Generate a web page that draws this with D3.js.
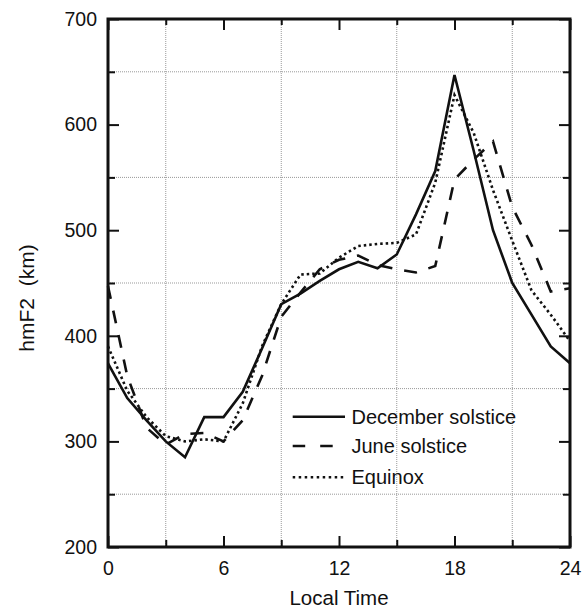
<!DOCTYPE html>
<html lang="en">

<head>
    <meta charset="UTF-8">
    <title>hmF2 local time</title>
    <style>
        body { margin: 0; background: #fff; }
        text { font-family: "Liberation Sans", Arial, sans-serif; fill: #111; }
    </style>
</head>

<body>
    <svg id="chart"></svg>

    <script src="https://d3js.org/d3.v7.min.js"></script>
    <script>
        const hours = [0, 1, 2, 3, 4, 5, 6, 7, 8, 9, 10, 11, 12, 13, 14, 15, 16, 17, 18, 19, 20, 21, 22, 23, 24]
        const december = [374, 341, 320, 300, 285, 323, 323, 347, 388, 430, 440, 452, 463, 470, 464, 477, 515, 556, 647, 575, 500, 450, 420, 390, 374]
        const june = [447, 362, 313, 297, 307, 308, 300, 320, 362, 418, 441, 463, 472, 476, 467, 463, 460, 466, 548, 567, 584, 522, 486, 442, 445]
        const equinox = [390, 348, 323, 305, 300, 302, 300, 336, 390, 430, 458, 459, 474, 485, 487, 488, 496, 545, 628, 592, 538, 490, 443, 420, 395]

        const xMajor = [0, 6, 12, 18, 24]
        const xMinor = [3, 9, 15, 21]
        const yMajor = [200, 300, 400, 500, 600, 700]
        const yMinor = [250, 350, 450, 550, 650]

        const seriesNames = ['December solstice', 'June solstice', 'Equinox']

        function render() {
            const svg = d3.select('#chart').attr('width', 587).attr('height', 615);

            const margin = { top: 19, left: 108, right: 17, bottom: 68 };
            const width = 587, height = 615;

            const x = d3.scaleLinear().domain([0, 24]).range([margin.left, width - margin.right]);
            const y = d3.scaleLinear().domain([200, 700]).range([height - margin.bottom, margin.top]);

            // grid
            const grid = svg.append('g').attr('stroke', '#999').attr('stroke-width', 1).attr('stroke-dasharray', '1,1');
            grid.selectAll('line.vg').data(xMinor).join('line')
                .attr('x1', d => x(d)).attr('x2', d => x(d))
                .attr('y1', y(700)).attr('y2', y(200));
            grid.selectAll('line.hg').data(yMinor).join('line')
                .attr('x1', x(0)).attr('x2', x(24))
                .attr('y1', d => y(d)).attr('y2', d => y(d));

            // axes, ticks pointing inward
            function addAxis(axis, tx, ty, labels) {
                const g = svg.append('g')
                    .attr('transform', `translate(${tx},${ty})`)
                    .call(axis);
                g.select('.domain').remove();
                g.selectAll('line').attr('stroke', '#111').attr('stroke-width', 2);
                g.selectAll('text').style('font-size', '19.5px')
                    .style('font-family', '"Liberation Sans", Arial, sans-serif').attr('fill', '#111');
                if (!labels) g.selectAll('text').remove();
                return g;
            }

            const yb = y(200), yt = y(700), xl = x(0), xr = x(24);

            addAxis(d3.axisBottom(x).tickValues(xMajor).tickSize(-11).tickPadding(14.5).tickFormat(d3.format('d')), 0, yb, true);
            addAxis(d3.axisBottom(x).tickValues(xMinor).tickSize(-7), 0, yb, false);
            addAxis(d3.axisTop(x).tickValues(xMajor).tickSize(-11), 0, yt, false);
            addAxis(d3.axisTop(x).tickValues(xMinor).tickSize(-6), 0, yt, false);
            addAxis(d3.axisLeft(y).tickValues(yMajor).tickSize(-11).tickPadding(11).tickFormat(d3.format('d')), xl, 0, true);
            addAxis(d3.axisLeft(y).tickValues(yMinor).tickSize(-7), xl, 0, false);
            addAxis(d3.axisRight(y).tickValues(yMajor).tickSize(-11), xr, 0, false);
            addAxis(d3.axisRight(y).tickValues(yMinor).tickSize(-7), xr, 0, false);

            // frame
            svg.append('rect')
                .attr('x', xl).attr('y', yt)
                .attr('width', xr - xl).attr('height', yb - yt)
                .attr('fill', 'none').attr('stroke', '#111').attr('stroke-width', 3);

            // lines
            const line = d3.line()
                .x((d, i) => x(hours[i]))
                .y(d => y(d));

            const styles = [
                { data: december, dash: null, legDash: null },
                { data: june, dash: '13,12', legDash: '12.5,15' },
                { data: equinox, dash: '2.5,3', legDash: '2.5,3.5' }
            ];

            styles.forEach(s => {
                svg.append('path')
                    .attr('d', line(s.data))
                    .attr('fill', 'none')
                    .attr('stroke', '#111')
                    .attr('stroke-width', 2.6)
                    .attr('stroke-linejoin', 'miter')
                    .attr('stroke-dasharray', s.dash);
            });

            // legend
            const legend = svg.append('g');
            const legY = [416.7, 446, 477.3];
            styles.forEach((s, i) => {
                legend.append('line')
                    .attr('x1', 292.7).attr('x2', 345)
                    .attr('y1', legY[i]).attr('y2', legY[i])
                    .attr('stroke', '#111').attr('stroke-width', 2.6)
                    .attr('stroke-dasharray', s.legDash);
                legend.append('text')
                    .attr('x', 351.5).attr('y', legY[i])
                    .attr('dy', '0.35em')
                    .style('font-size', '20px')
                    .text(seriesNames[i]);
            });

            // axis titles
            svg.append('text')
                .attr('x', (xl + xr) / 2).attr('y', 605)
                .attr('text-anchor', 'middle')
                .style('font-size', '20.5px')
                .text('Local Time');

            svg.append('text')
                .attr('transform', 'translate(34,298) rotate(-90)')
                .attr('text-anchor', 'middle')
                .style('font-size', '21px')
                .style('white-space', 'pre')
                .attr('xml:space', 'preserve')
                .text('hmF2  (km)');
        }

        render()
    </script>
</body>

</html>
